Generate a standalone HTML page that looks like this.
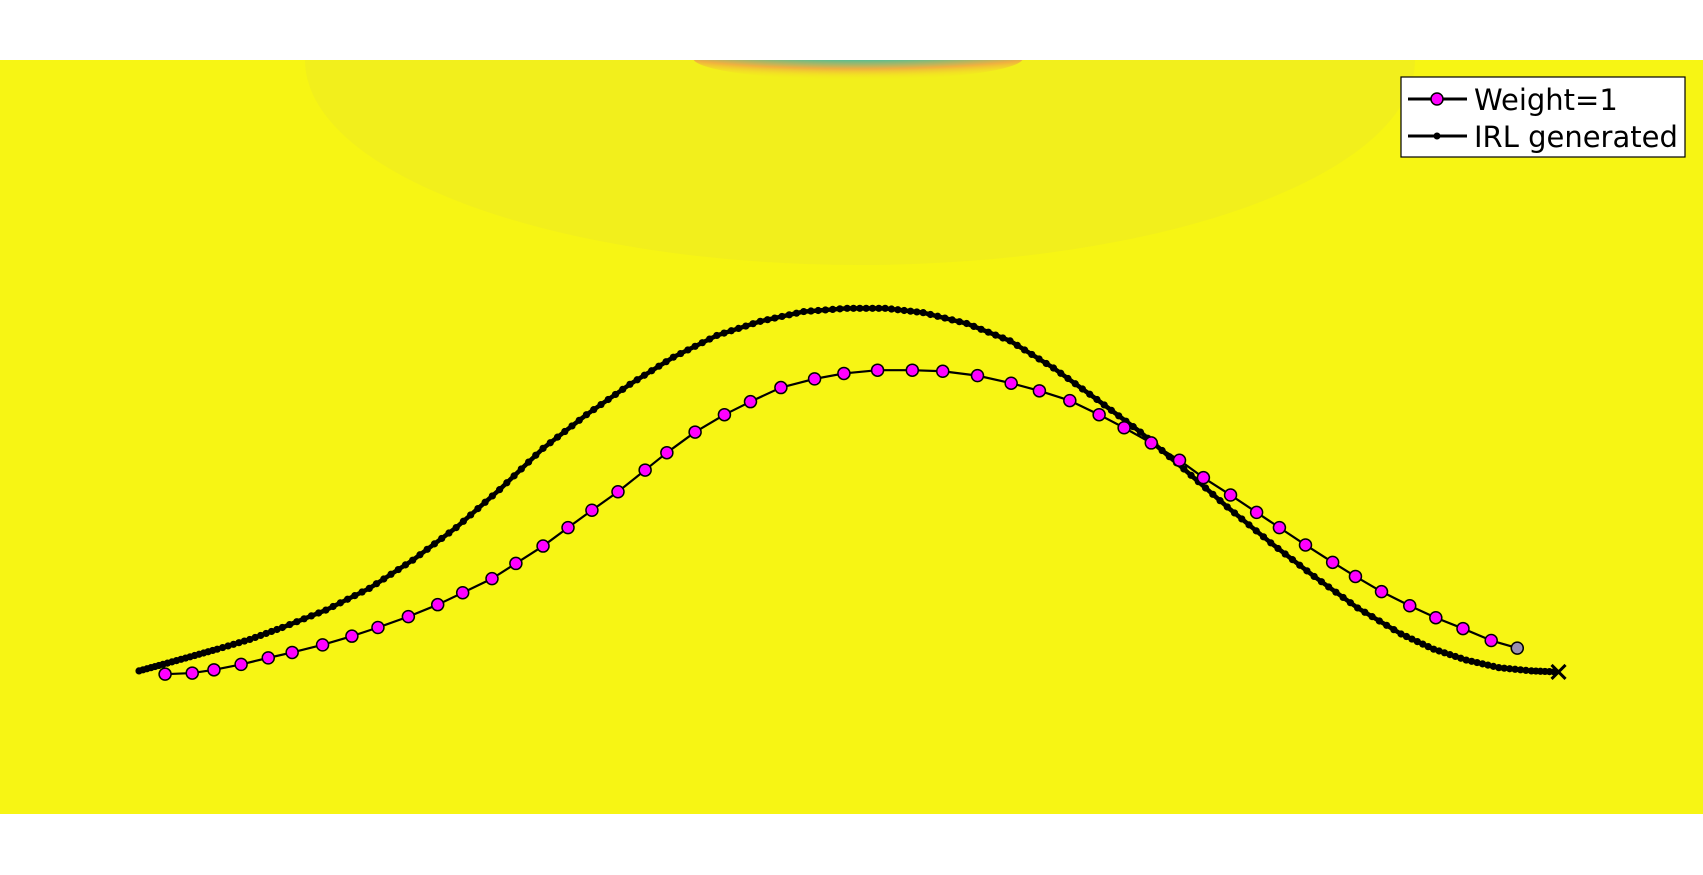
<!DOCTYPE html>
<html><head><meta charset="utf-8"><style>
html,body{margin:0;padding:0;background:#fff;width:1703px;height:875px;overflow:hidden}
svg{display:block}
text{font-family:"DejaVu Sans","Liberation Sans",sans-serif}
</style></head><body>
<svg id="chart" width="1703" height="875" viewBox="0 0 1703 875">
<defs>
<clipPath id="plotclip"><rect x="0" y="60" width="1703" height="754"/></clipPath>
<radialGradient id="spot" cx="0.5" cy="0" r="1">
<stop offset="0" stop-color="#3b2fa0"/><stop offset="0.3" stop-color="#2a8fcf"/><stop offset="0.5" stop-color="#3cc0a0"/><stop offset="0.75" stop-color="#f0b040"/><stop offset="1" stop-color="#f2ef1a" stop-opacity="0"/>
</radialGradient>
</defs>
<g clip-path="url(#plotclip)">
<rect x="0" y="60" width="1703" height="754" fill="#f7f514"/>
<ellipse cx="860" cy="60" rx="555" ry="205" fill="#f2ef1c"/>
<ellipse cx="858" cy="58" rx="165" ry="22" fill="url(#spot)"/>
</g>
<g id="lines"></g>
<g>
<rect x="1401" y="77" width="284" height="80" fill="#fff" stroke="#000" stroke-width="1.2"/>
<line x1="1408" y1="99" x2="1467" y2="99" stroke="#000" stroke-width="3"/>
<circle cx="1437" cy="99" r="6" fill="#ff00ff" stroke="#000" stroke-width="1.5"/>
<text x="1474" y="110" font-size="29">Weight=1</text>
<line x1="1408" y1="136" x2="1467" y2="136" stroke="#000" stroke-width="3"/>
<circle cx="1437" cy="136" r="3.5" fill="#000"/>
<text x="1474" y="147" font-size="29">IRL generated</text>
</g>
</svg>
<script>
const weightX=[152,177,197,222,247,269,297,324,348,376,403,426,453,475,500,523,545,569,594,614,640,667,691,719,750,777,808,840,868,900,931,957,985,1012,1035,1060,1086,1108,1133,1157,1178,1202,1227,1248,1272,1298,1322,1347,1373,1397];
const weightY=[621,620,617,612,606,601,594,586,578,568,557,546,533,519,503,486,470,453,433,417,398,382,370,357,349,344,341,341,342,346,353,360,369,382,394,408,424,440,456,472,486,502,518,531,545,558,569,579,590,597];
const irlX=[128,150,175,200,230,260,300,340,380,420,460,500,540,580,620,660,700,740,780,815,850,890,930,970,1010,1050,1090,1130,1170,1210,1250,1290,1320,1350,1380,1410,1435];
const irlY=[618,612,605,598,589,578,562,542,516,486,451,413,382,354,329,309,296,287,284,284,288,298,314,339,368,398,432,467,500,531,560,584,598,608,615,618,619];
const sx=v=>v*1703/1568, sy=v=>v*875/806;
const g=document.getElementById('lines');
const NS='http://www.w3.org/2000/svg';
function poly(xs,ys,w){const p=document.createElementNS(NS,'polyline');
p.setAttribute('points',xs.map((x,i)=>sx(x)+','+sy(ys[i])).join(' '));
p.setAttribute('fill','none');p.setAttribute('stroke','#000');p.setAttribute('stroke-width',w);p.setAttribute('stroke-linejoin','round');g.appendChild(p);return p;}
const l1=poly(irlX,irlY,4.5);


for(let i=0;i<irlX.length-1;i++){for(let k=0;k<6;k++){const t=k/6;
const c=document.createElementNS(NS,'circle');
c.setAttribute('cx',sx(irlX[i]+(irlX[i+1]-irlX[i])*t));c.setAttribute('cy',sy(irlY[i]+(irlY[i+1]-irlY[i])*t));
c.setAttribute('r',3.6);c.setAttribute('fill','#000');


g.appendChild(c);}}
const l2=poly(weightX,weightY,2.2);


weightX.forEach((x,i)=>{const c=document.createElementNS(NS,'circle');
c.setAttribute('cx',sx(x));c.setAttribute('cy',sy(weightY[i]));c.setAttribute('r',6);
c.setAttribute('fill',i===weightX.length-1?'#9a8fb0':'#ff00ff');c.setAttribute('stroke','#000');c.setAttribute('stroke-width',1.5);


g.appendChild(c);});
const gx=sx(irlX[irlX.length-1]), gy=sy(irlY[irlY.length-1]);
const goal=document.createElementNS(NS,'path');
goal.setAttribute('d',`M${gx-7},${gy-7}L${gx+7},${gy+7}M${gx-7},${gy+7}L${gx+7},${gy-7}`);
goal.setAttribute('stroke','#000');goal.setAttribute('stroke-width',3);


g.appendChild(goal);
</script>
</body></html>
